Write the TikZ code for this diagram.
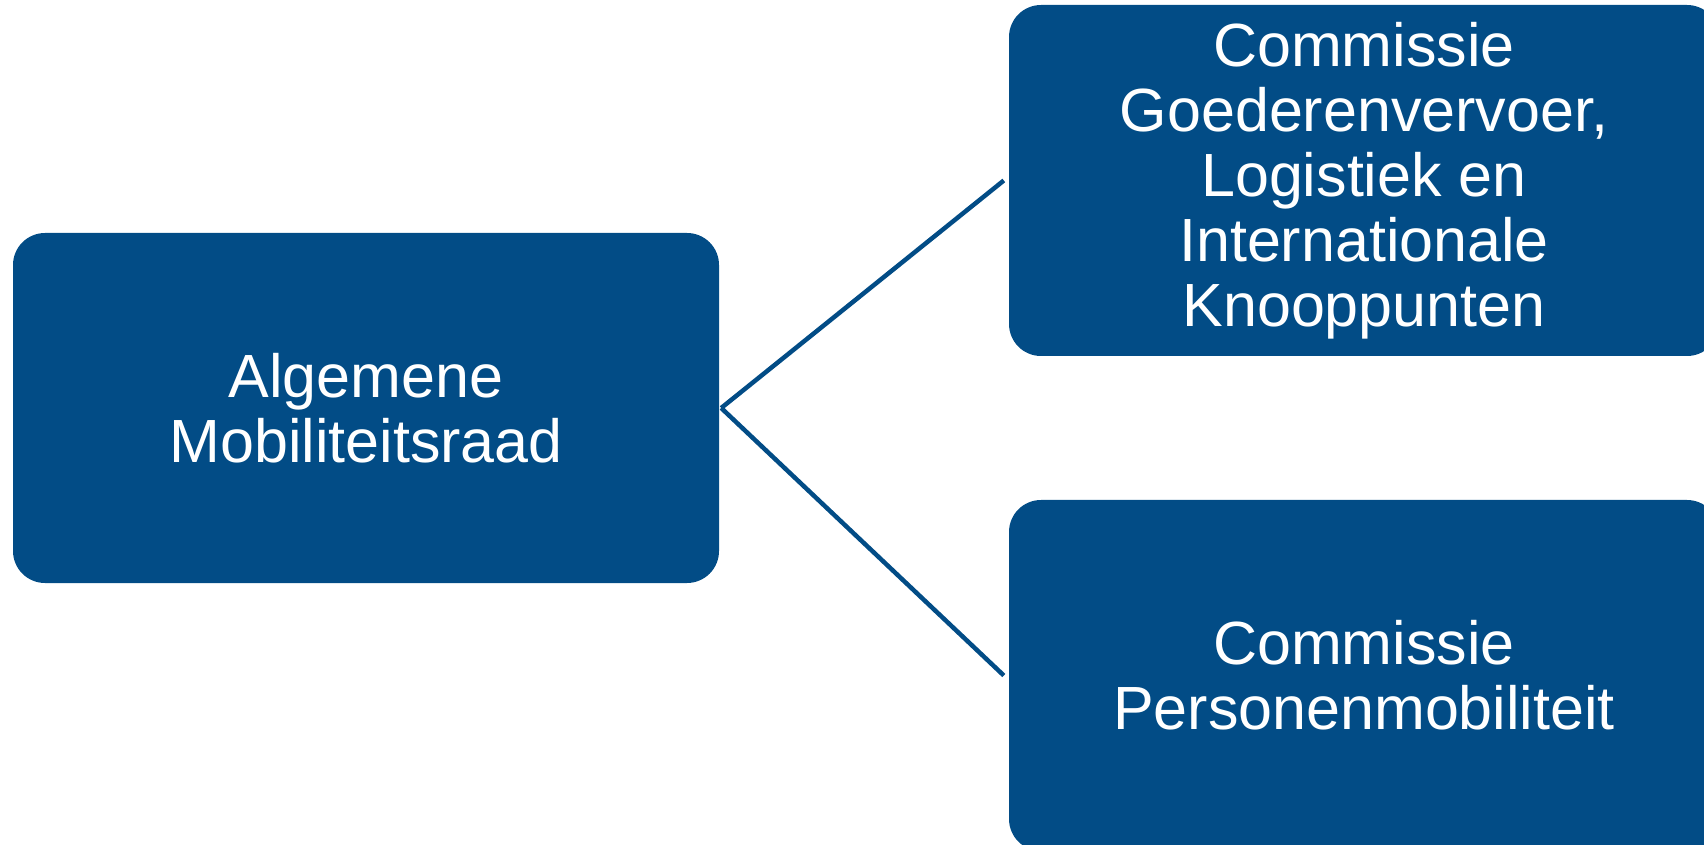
\documentclass[tikz,border=0pt]{standalone}
\usepackage{fontspec}
\setmainfont{Liberation Sans}
\usepackage{tikz}
\usepackage{xcolor}
\usetikzlibrary{calc, positioning}

\definecolor{raadblauw}{RGB}{2,76,134}

\begin{document}
\begin{tikzpicture}[x=1pt, y=1pt,
                        box/.style={rectangle, rounded corners=32pt, fill=raadblauw, text=white, inner sep=0pt,
                                    minimum width=710pt, minimum height=351pt, align=center,
                                    font=\fontsize{61}{65}\selectfont},
                        link/.style={draw=raadblauw, line width=4.5pt}]
                        \clip (0, 0) rectangle (1704, 844);
                        \useasboundingbox (0, 0) rectangle (1704, 844);

                        \node[box, minimum width=706pt, minimum height=350pt] (mob) at (366, 436) {Algemene\\Mobiliteitsraad};
                        \node[box] (goed) at (1364, 663.5) {Commissie\\Goederenvervoer,\\Logistiek en\\Internationale\\Knooppunten};
                        \node[box] (pers) at (1364, 168.5) {Commissie\\Personenmobiliteit};

                        \draw[link]
                        ([xshift=2pt]mob.east) -- ([xshift=-5pt]goed.west)
                        ([xshift=2pt]mob.east) -- ([xshift=-5pt]pers.west);
                    \end{tikzpicture}
\end{document}
